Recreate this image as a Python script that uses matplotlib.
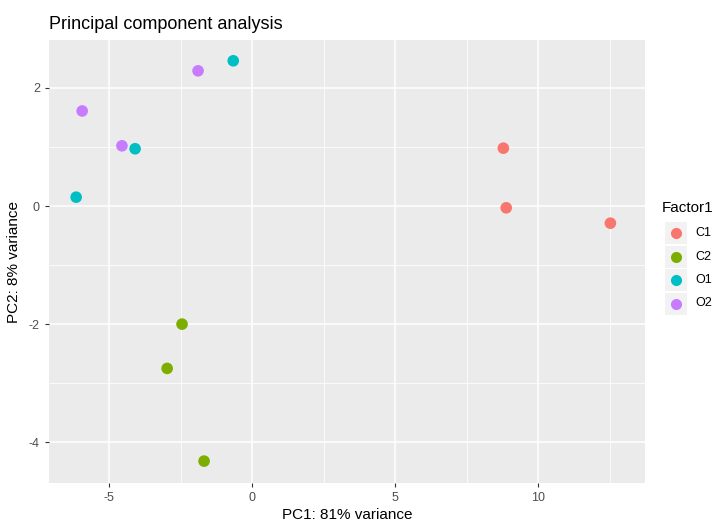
import numpy as np
import matplotlib.pyplot as plt
from matplotlib.patches import Rectangle
from matplotlib.lines import Line2D

# PCA scores
groups = ['C1', 'C2', 'O1', 'O2']
colors = ['#F8766D', '#7CAE00', '#00BFC4', '#C77CFF']
pc1 = {
    'C1': [8.78, 8.88, 12.52],
    'C2': [-2.45, -2.97, -1.68],
    'O1': [-0.66, -4.09, -6.15],
    'O2': [-1.89, -5.94, -4.55],
}
pc2 = {
    'C1': [0.98, -0.03, -0.29],
    'C2': [-2.0, -2.75, -4.32],
    'O1': [2.46, 0.97, 0.15],
    'O2': [2.29, 1.61, 1.02],
}
xticks = [-5, 0, 5, 10]
yticks = [-4, -2, 0, 2]

plt.rcParams['font.family'] = ['Liberation Sans', 'DejaVu Sans']
plt.rcParams['axes.unicode_minus'] = False

fig = plt.figure(figsize=(7.15, 5.21), dpi=100)
ax = fig.add_axes([0.0685, 0.073, 0.834, 0.850])
ax.set_facecolor('#EBEBEB')

for g, c in zip(groups, colors):
    ax.scatter(pc1[g], pc2[g], s=70, color=c, edgecolors='none', zorder=3)

ax.set_xlim(-7.1, 13.74)
ax.set_ylim(-4.69, 2.81)
ax.set_xticks(xticks)
ax.set_yticks(yticks)
ax.set_xticks([-2.5, 2.5, 7.5, 12.5], minor=True)
ax.set_yticks([-3, -1, 1], minor=True)
ax.grid(True, which='major', color='white', linewidth=1.1, zorder=0)
ax.grid(True, which='minor', color='white', linewidth=0.55, zorder=0)
ax.set_axisbelow(True)
for s in ax.spines.values():
    s.set_visible(False)
ax.tick_params(which='major', length=3, color='#333333', labelcolor='#4D4D4D', labelsize=9)
ax.tick_params(which='minor', length=0)

ax.set_xlabel('PC1: 81% variance', fontsize=11, labelpad=3)
ax.set_ylabel('PC2: 8% variance', fontsize=11, labelpad=6)
ax.set_title('Principal component analysis', fontsize=13, loc='left', x=0.0, pad=8)

# legend drawn by hand, ggplot style
fig.text(0.926, 0.600, 'Factor1', fontsize=11, va='center', ha='left')
key_w = 22 / 715
key_h = 22 / 521
for i, (g, c) in enumerate(zip(groups, colors)):
    yc = 1 - (233 + 23.5 * i) / 521
    fig.add_artist(Rectangle((0.930, yc - key_h / 2), key_w, key_h,
                             transform=fig.transFigure, facecolor='#F2F2F2',
                             edgecolor='none'))
    fig.add_artist(Line2D([0.930 + key_w / 2], [yc], marker='o', markersize=8,
                          color=c, markeredgewidth=0, transform=fig.transFigure))
    fig.text(0.930 + key_w + 0.012, yc, g, fontsize=9, va='center', ha='left')

fig.savefig('out.png', dpi=100)
